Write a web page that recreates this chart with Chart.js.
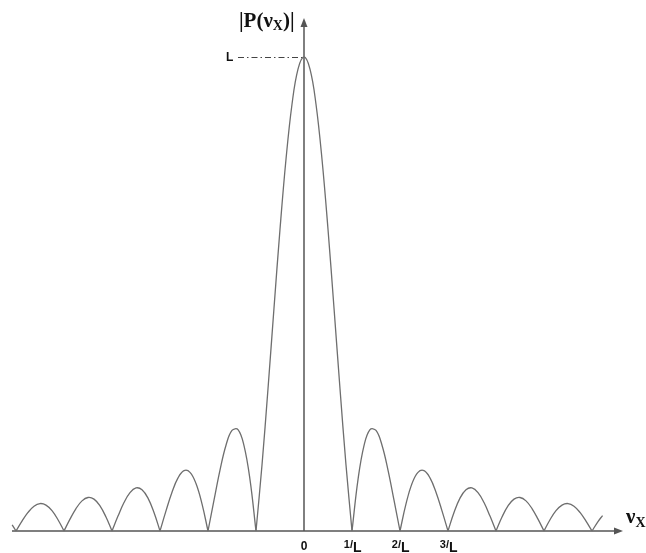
<!DOCTYPE html>
<html>
<head>
<meta charset="utf-8">
<script src="https://cdn.jsdelivr.net/npm/chart.js@4"></script>
<style>
  html, body { margin: 0; padding: 0; background: #ffffff; }
  #wrap { width: 646px; height: 553px; }
</style>
</head>
<body>
<div id="wrap"><canvas id="c" width="646" height="553"></canvas></div>
<script>
// Frequency positions (in units of 1/L)
const freq = [
  -6.08, -6, -5.875, -5.75, -5.625, -5.5, -5.375, -5.25, -5.125,
  -5, -4.875, -4.75, -4.625, -4.5, -4.375, -4.25, -4.125,
  -4, -3.875, -3.75, -3.625, -3.5, -3.375, -3.25, -3.125,
  -3, -2.875, -2.75, -2.625, -2.5, -2.375, -2.25, -2.125,
  -2, -1.875, -1.75, -1.625, -1.5, -1.375, -1.25, -1.125,
  -1, -0.875, -0.75, -0.625, -0.5, -0.375, -0.25, -0.125,
  0,
  0.125, 0.25, 0.375, 0.5, 0.625, 0.75, 0.875, 1,
  1.125, 1.25, 1.375, 1.5, 1.625, 1.75, 1.875, 2,
  2.125, 2.25, 2.375, 2.5, 2.625, 2.75, 2.875, 3,
  3.125, 3.25, 3.375, 3.5, 3.625, 3.75, 3.875, 4,
  4.125, 4.25, 4.375, 4.5, 4.625, 4.75, 4.875, 5,
  5.125, 5.25, 5.375, 5.5, 5.625, 5.75, 5.875, 6,
  6.125, 6.22
];
// |P(nu_x)| magnitude (in units of L)
const magnitude = [
  0.0130, 0, 0.0207, 0.0391, 0.0523, 0.0579, 0.0547, 0.0429, 0.0238,
  0, 0.0250, 0.0474, 0.0636, 0.0707, 0.0672, 0.0530, 0.0295,
  0, 0.0314, 0.0600, 0.0811, 0.0909, 0.0871, 0.0693, 0.0390,
  0, 0.0424, 0.0818, 0.1120, 0.1273, 0.1238, 0.1000, 0.0573,
  0, 0.0650, 0.1286, 0.1810, 0.2122, 0.2139, 0.1801, 0.1083,
  0, 0.1392, 0.3001, 0.4705, 0.6366, 0.7842, 0.9003, 0.9745,
  1,
  0.9745, 0.9003, 0.7842, 0.6366, 0.4705, 0.3001, 0.1392, 0,
  0.1083, 0.1801, 0.2139, 0.2122, 0.1810, 0.1286, 0.0650, 0,
  0.0573, 0.1000, 0.1238, 0.1273, 0.1120, 0.0818, 0.0424, 0,
  0.0390, 0.0693, 0.0871, 0.0909, 0.0811, 0.0600, 0.0314, 0,
  0.0295, 0.0530, 0.0672, 0.0707, 0.0636, 0.0474, 0.0250, 0,
  0.0238, 0.0429, 0.0547, 0.0579, 0.0523, 0.0391, 0.0207, 0,
  0.0199, 0.0326
];
// Tick labels on the frequency axis: numerator / denominator
const tickPositions = [0, 1, 2, 3];
const tickNumerators = ['0', '1', '2', '3'];
const tickDenominator = 'L';
// Axis labels
const yAxisLabel = { pre: '|P(', nu: 'ν', sub: 'X', post: ')|' };
const xAxisLabel = { nu: 'ν', sub: 'X' };
const peakLabel = 'L';
const peakValue = 1;

// Split the curve into lobes at its zeros, so each lobe is smooth
// while the zeros stay as sharp cusps.
const lobes = [];
let cur = [];
freq.forEach((f, i) => {
  const p = { x: f, y: magnitude[i] };
  cur.push(p);
  if (magnitude[i] === 0 && cur.length > 1) {
    lobes.push(cur);
    cur = [p];
  }
});
if (cur.length > 1) lobes.push(cur);

const AXIS = '#555555';
const CURVE = '#6e6e6e';
const SERIF = '"Liberation Serif", "Times New Roman", serif';
const SANS = '"Liberation Sans", Arial, sans-serif';

function arrowHead(ctx, x, y, dir) {
  ctx.beginPath();
  if (dir === 'right') {
    ctx.moveTo(x, y);
    ctx.lineTo(x - 9, y - 3.5);
    ctx.lineTo(x - 9, y + 3.5);
  } else {
    ctx.moveTo(x, y);
    ctx.lineTo(x - 3.5, y + 9);
    ctx.lineTo(x + 3.5, y + 9);
  }
  ctx.closePath();
  ctx.fill();
}

const decor = {
  id: 'decor',
  beforeDatasetsDraw(chart) {
    const { ctx, chartArea, scales } = chart;
    const xs = scales.x, ys = scales.y;
    const x0 = xs.getPixelForValue(0);
    const y0 = ys.getPixelForValue(0);
    const yPeak = ys.getPixelForValue(peakValue);
    ctx.save();
    ctx.strokeStyle = AXIS;
    ctx.fillStyle = AXIS;
    ctx.lineWidth = 1.5;
    ctx.beginPath();
    ctx.moveTo(chartArea.left, y0);
    ctx.lineTo(chartArea.right - 4, y0);
    ctx.stroke();
    arrowHead(ctx, chartArea.right, y0, 'right');
    ctx.beginPath();
    ctx.moveTo(x0, y0);
    ctx.lineTo(x0, chartArea.top + 4);
    ctx.stroke();
    arrowHead(ctx, x0, chartArea.top, 'up');
    ctx.lineWidth = 1;
    ctx.strokeStyle = '#444';
    ctx.setLineDash([6, 3, 1.5, 3]);
    ctx.beginPath();
    ctx.moveTo(x0 - 66, yPeak + 0.5);
    ctx.lineTo(x0, yPeak + 0.5);
    ctx.stroke();
    ctx.setLineDash([]);
    ctx.restore();
  },
  afterDraw(chart) {
    const { ctx, scales } = chart;
    const xs = scales.x, ys = scales.y;
    const y0 = ys.getPixelForValue(0);
    const yPeak = ys.getPixelForValue(peakValue);
    ctx.save();
    ctx.fillStyle = '#111';
    ctx.textBaseline = 'alphabetic';
    ctx.font = 'bold 12px ' + SANS;
    ctx.textAlign = 'left';
    ctx.fillText(peakLabel, 226, yPeak + 4);
    tickPositions.forEach((v, i) => {
      const px = xs.getPixelForValue(v);
      if (v === 0) {
        ctx.font = 'bold 12px ' + SANS;
        ctx.textAlign = 'center';
        ctx.fillText(tickNumerators[i], px, y0 + 19);
      } else {
        ctx.font = 'bold 11px ' + SANS;
        ctx.textAlign = 'right';
        ctx.fillText(tickNumerators[i] + '/', px + 1, y0 + 17);
        ctx.font = 'bold 14px ' + SANS;
        ctx.textAlign = 'left';
        ctx.fillText(tickDenominator, px + 1, y0 + 21);
      }
    });
    let tx = 239, ty = 27;
    ctx.textAlign = 'left';
    ctx.font = 'bold 21px ' + SERIF;
    ctx.fillText(yAxisLabel.pre, tx, ty);
    tx += ctx.measureText(yAxisLabel.pre).width;
    ctx.fillText(yAxisLabel.nu, tx, ty);
    tx += ctx.measureText(yAxisLabel.nu).width;
    ctx.font = 'bold 14px ' + SERIF;
    ctx.fillText(yAxisLabel.sub, tx, ty + 3);
    tx += ctx.measureText(yAxisLabel.sub).width;
    ctx.font = 'bold 21px ' + SERIF;
    ctx.fillText(yAxisLabel.post, tx, ty);
    let ax = 626, ay = y0 - 8;
    ctx.font = 'bold 21px ' + SERIF;
    ctx.fillText(xAxisLabel.nu, ax, ay);
    ax += ctx.measureText(xAxisLabel.nu).width;
    ctx.font = 'bold 14px ' + SERIF;
    ctx.fillText(xAxisLabel.sub, ax, ay + 4);
    ctx.restore();
  }
};

new Chart(document.getElementById('c'), {
  type: 'line',
  data: {
    datasets: lobes.map(l => ({
      data: l,
      borderColor: CURVE,
      borderWidth: 1.3,
      pointRadius: 0,
      tension: 0.4,
      fill: false,
      clip: false
    }))
  },
  options: {
    responsive: false,
    devicePixelRatio: 1,
    animation: false,
    events: [],
    layout: { padding: { left: 12, right: 23, top: 18, bottom: 22 } },
    plugins: { legend: { display: false }, tooltip: { enabled: false } },
    scales: {
      x: { type: 'linear', display: false, min: -6.0833, max: 6.6458 },
      y: { type: 'linear', display: false, min: 0, max: 1.0823 }
    }
  },
  plugins: [decor]
});
</script>
</body>
</html>
